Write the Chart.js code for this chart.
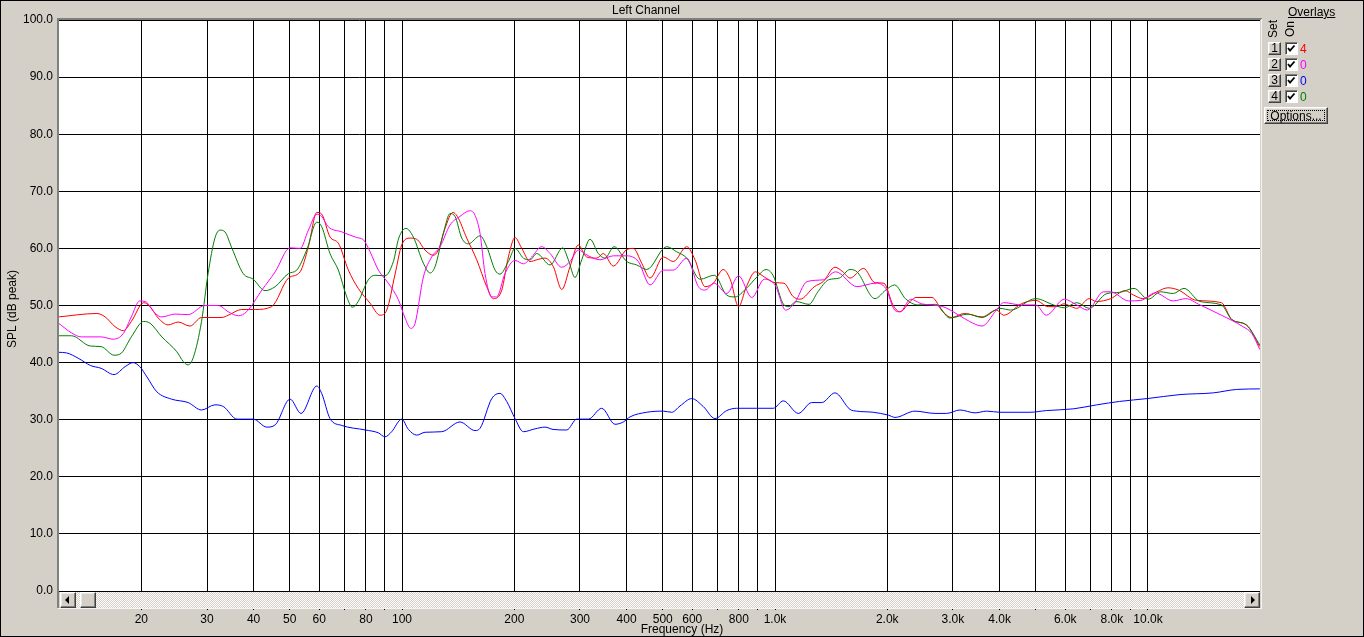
<!DOCTYPE html>
<html>
<head>
<meta charset="utf-8">
<script src="https://cdn.jsdelivr.net/npm/chart.js@4.4.1/dist/chart.umd.min.js"></script>
<style>
html,body{margin:0;padding:0;background:#D4D0C8;overflow:hidden;}
#wrap{position:relative;width:1364px;height:637px;}
canvas{position:absolute;left:0;top:0;}
.ui{position:absolute;font-family:"Liberation Sans",Arial,sans-serif;font-size:12px;line-height:12px;color:#000;white-space:nowrap;}
.b3d{position:absolute;box-sizing:border-box;background:#D4D0C8;border:1px solid;border-color:#FFFFFF #404040 #404040 #FFFFFF;box-shadow:inset -1px -1px #808080, inset 1px 1px #E8E8E8;}
.cb{position:absolute;box-sizing:border-box;width:13px;height:13px;background:#fff;border:1px solid;border-color:#808080 #FFFFFF #FFFFFF #808080;box-shadow:inset 1px 1px #404040;}
.rot{transform:rotate(-90deg);text-align:center;}
</style>
</head>
<body>
<div id="wrap">
<canvas id="c" width="1364" height="637" style="width:1364px;height:637px;"></canvas>

<!-- scrollbar -->
<div style="position:absolute;left:60px;top:592px;width:1200px;height:16px;background:repeating-conic-gradient(#D4D0C8 0 25%, #FFFFFF 0 50%) 0 0/2px 2px;"></div>
<div class="b3d" style="left:60px;top:592px;width:16px;height:16px;">
  <div style="position:absolute;left:4px;top:3px;width:0;height:0;border-top:4px solid transparent;border-bottom:4px solid transparent;border-right:4px solid #000;"></div>
</div>
<div class="b3d" style="left:80px;top:592px;width:16px;height:16px;"></div>
<div class="b3d" style="left:1244px;top:592px;width:16px;height:16px;">
  <div style="position:absolute;left:6px;top:3px;width:0;height:0;border-top:4px solid transparent;border-bottom:4px solid transparent;border-left:4px solid #000;"></div>
</div>

<!-- overlays panel -->
<div class="ui" style="left:1288px;top:6px;text-decoration:underline;">Overlays</div>
<div class="ui rot" style="left:1263px;top:23px;width:20px;height:12px;">Set</div>
<div class="ui rot" style="left:1281px;top:23px;width:18px;height:12px;">On</div>

<div class="b3d ui" style="left:1268px;top:42px;width:13px;height:13px;text-align:center;line-height:11px;">1</div>
<div class="b3d ui" style="left:1268px;top:58px;width:13px;height:13px;text-align:center;line-height:11px;">2</div>
<div class="b3d ui" style="left:1268px;top:74px;width:13px;height:13px;text-align:center;line-height:11px;">3</div>
<div class="b3d ui" style="left:1268px;top:90px;width:13px;height:13px;text-align:center;line-height:11px;">4</div>

<div class="cb" style="left:1285px;top:42px;"><svg width="11" height="11" style="position:absolute;left:0;top:0"><polyline points="2,5 4,7.5 8.5,2.5" fill="none" stroke="#000" stroke-width="1.8"/></svg></div>
<div class="cb" style="left:1285px;top:58px;"><svg width="11" height="11" style="position:absolute;left:0;top:0"><polyline points="2,5 4,7.5 8.5,2.5" fill="none" stroke="#000" stroke-width="1.8"/></svg></div>
<div class="cb" style="left:1285px;top:74px;"><svg width="11" height="11" style="position:absolute;left:0;top:0"><polyline points="2,5 4,7.5 8.5,2.5" fill="none" stroke="#000" stroke-width="1.8"/></svg></div>
<div class="cb" style="left:1285px;top:90px;"><svg width="11" height="11" style="position:absolute;left:0;top:0"><polyline points="2,5 4,7.5 8.5,2.5" fill="none" stroke="#000" stroke-width="1.8"/></svg></div>

<div class="ui" style="left:1300px;top:43px;color:#FF0000;">4</div>
<div class="ui" style="left:1300px;top:59px;color:#FF00FF;">0</div>
<div class="ui" style="left:1300px;top:75px;color:#0000FF;">0</div>
<div class="ui" style="left:1300px;top:91px;color:#008000;">0</div>

<div class="b3d ui" style="left:1264px;top:107px;width:64px;height:17px;">
  <div style="position:absolute;left:2px;top:2px;right:2px;bottom:2px;border:1px dotted #000;text-align:center;line-height:11px;">Options...</div>
</div>
</div>

<script>
// ---------------- data ----------------
const redHz = [12.0, 15.2, 16.0, 17.0, 17.9, 18.8, 20.3, 21.1, 22.2, 23.6, 25.1, 27.0, 29.0, 32.9, 34.2, 37.2, 40.4, 44.7, 49.6, 53.3, 56.1, 59.1, 60.9, 64.1, 67.5, 71.8, 76.3, 82.1, 87.3, 91.0, 95.8, 99.8, 105.1, 109.5, 115.3, 121.3, 125.1, 130.4, 136.8, 140.7, 149.1, 158.6, 168.7, 175.7, 185.1, 192.8, 200.9, 209.4, 220.4, 229.7, 241.8, 254.5, 268.1, 282.1, 296.9, 312.7, 332.7, 346.5, 368.6, 400.5, 417.1, 439.2, 462.3, 501.8, 533.7, 579.9, 610.3, 649.2, 683.4, 726.3, 759.3, 798.7, 838, 886, 936, 1000, 1057, 1117, 1167, 1275, 1347, 1448, 1521, 1589, 1728, 1854, 1959, 2071, 2163, 2311, 2388, 2636, 2818, 2979, 3217, 3589, 3923, 4102, 4577, 5000, 5400, 5702, 5955, 6232, 6443, 6958, 7271, 7943, 8677, 9167, 9690, 10571, 11308, 12078, 13486, 15735, 16800, 18360, 19950];
const redDb = [48.0, 48.6, 48.0, 46.3, 45.6, 47.2, 50.5, 49.8, 47.8, 46.6, 47.1, 46.4, 47.9, 47.9, 48.3, 49.3, 49.3, 49.8, 54.8, 55.9, 60.3, 66.3, 66.0, 62.0, 60.9, 56.2, 53.0, 50.4, 48.3, 49.2, 55.5, 60.6, 61.8, 61.6, 59.7, 58.8, 59.7, 63.5, 66.3, 65.6, 61.8, 58.0, 53.3, 51.2, 52.7, 58.5, 61.9, 60.0, 57.7, 58.0, 58.3, 56.8, 52.8, 56.8, 60.6, 58.5, 58.3, 59.1, 56.9, 59.8, 60.0, 57.4, 54.8, 58.5, 57.7, 60.3, 58.0, 53.3, 53.9, 56.3, 54.5, 49.8, 53.3, 55.9, 55.0, 54.0, 53.9, 51.6, 51.1, 53.3, 54.2, 56.7, 55.9, 54.8, 56.5, 54.0, 53.9, 50.1, 48.9, 50.8, 51.4, 51.4, 48.9, 47.9, 48.6, 48.0, 49.2, 48.3, 50.3, 50.9, 49.8, 49.8, 50.3, 49.8, 49.5, 51.2, 50.7, 51.2, 52.6, 51.8, 51.2, 52.4, 53.1, 52.7, 50.9, 50.5, 47.5, 46.6, 42.8];

const magentaHz = [12.0, 13.0, 13.8, 15.6, 16.8, 17.9, 18.8, 19.8, 20.5, 21.8, 22.7, 24.6, 26.7, 29.6, 32.2, 34.2, 36.4, 38.3, 42.1, 45.7, 50.1, 53.3, 56.1, 59.1, 60.9, 63.4, 68.9, 75.6, 78.8, 82.1, 86.4, 91.9, 97.8, 101.9, 105.5, 108.4, 114.1, 120.1, 126.5, 134.5, 143.0, 152.2, 156.9, 161.9, 166.9, 174.0, 179.4, 188.8, 200.9, 211.5, 222.7, 236.9, 249.4, 268.1, 282.1, 296.9, 315.9, 339.5, 368.6, 400.5, 430.1, 462.3, 501.8, 533.7, 579.9, 623.1, 649.2, 687.6, 742.6, 798.7, 866.5, 936.0, 1000, 1068, 1128, 1219, 1347, 1454, 1659, 1854, 1981, 2093, 2163, 2311, 2469, 2818, 3113, 3325, 3589, 3923, 4102, 4577, 5000, 5340, 5964, 6443, 6882, 7603, 7943, 8872, 9577, 10466, 11684, 12622, 13786, 15735, 17967, 18985, 19950];
const magentaDb = [46.9, 45.2, 44.5, 44.5, 44.1, 45.1, 48.0, 50.8, 50.7, 48.6, 48.0, 48.5, 48.4, 50.0, 50.0, 48.9, 48.2, 48.9, 52.7, 55.9, 60.1, 60.0, 63.2, 66.0, 65.6, 63.8, 62.9, 61.9, 61.5, 59.4, 56.2, 53.9, 51.0, 47.8, 46.0, 46.9, 55.0, 58.5, 60.3, 64.1, 65.6, 66.6, 65.8, 62.6, 55.6, 51.5, 51.5, 55.6, 57.9, 57.3, 58.5, 60.3, 59.1, 56.7, 57.7, 59.7, 58.7, 58.0, 58.7, 58.7, 57.7, 53.6, 56.2, 56.2, 58.3, 53.3, 52.7, 53.9, 52.1, 55.2, 51.4, 54.6, 53.6, 49.2, 50.4, 54.2, 54.5, 55.9, 53.3, 53.9, 53.0, 49.2, 48.9, 51.1, 50.3, 49.8, 48.3, 47.2, 46.4, 49.2, 50.5, 50.1, 50.1, 48.3, 51.1, 50.1, 49.2, 52.4, 52.4, 50.8, 50.9, 52.2, 50.8, 51.2, 50.1, 48.3, 46.3, 45.1, 42.3];

const blueHz = [12.0, 12.6, 13.6, 14.6, 15.6, 16.9, 18.1, 19.0, 19.8, 20.7, 22.0, 24.1, 26.7, 29.0, 31.5, 33.2, 36.1, 39.9, 43.4, 45.7, 50.1, 53.6, 59.1, 60.9, 64.1, 68.9, 79.8, 86.4, 90.0, 93.8, 99.8, 104.0, 109.5, 115.3, 127.8, 143.0, 156.9, 161.9, 174.0, 183.1, 190.8, 200.9, 211.5, 227.3, 241.8, 254.0, 276.5, 294.1, 315.9, 343.1, 372.4, 392.0, 408.7, 452.9, 501.8, 528.5, 556.3, 598.0, 642.3, 690.4, 742.2, 789.3, 893.0, 989.5, 1053, 1155, 1254, 1334, 1448, 1589, 1656, 1835, 2013, 2098, 2373, 2685, 2885, 3133, 3438, 3695, 4011, 4827, 5340, 6305, 7290, 8393, 9960, 12183, 14964, 17292, 19950];
const blueDb = [41.8, 41.7, 40.7, 39.5, 39.0, 37.9, 39.3, 40.0, 39.3, 37.5, 34.9, 33.6, 33.0, 31.7, 32.6, 32.3, 30.1, 30.1, 28.7, 29.1, 33.6, 31.1, 35.9, 34.6, 30.2, 29.0, 28.2, 27.7, 27.0, 27.9, 30.1, 28.3, 27.3, 27.8, 27.9, 29.6, 28.1, 28.5, 33.7, 34.6, 33.2, 30.2, 27.9, 28.4, 28.7, 28.3, 28.2, 30.1, 30.1, 32.0, 29.2, 29.6, 30.5, 31.3, 31.5, 31.3, 32.4, 33.7, 32.3, 30.2, 31.6, 32.0, 32.0, 32.0, 33.3, 31.1, 33.0, 33.0, 34.7, 31.8, 31.5, 31.3, 30.8, 30.4, 31.5, 31.1, 31.1, 31.7, 31.2, 31.5, 31.3, 31.3, 31.6, 31.9, 32.6, 33.2, 33.7, 34.4, 34.7, 35.3, 35.4];

const greenHz = [12.0, 13.0, 14.6, 15.6, 16.9, 17.7, 18.8, 20.3, 21.1, 22.7, 24.9, 25.9, 26.7, 27.6, 29.0, 30.2, 31.5, 32.5, 33.5, 35.0, 37.5, 39.9, 42.9, 45.7, 49.6, 52.2, 55.5, 59.1, 60.9, 64.1, 67.5, 71.1, 73.6, 76.3, 81.2, 84.6, 90.0, 94.8, 98.0, 102.5, 107.2, 114.1, 118.9, 122.6, 129.0, 134.5, 138.7, 144.6, 150.6, 161.9, 168.7, 177.6, 183.1, 192.8, 200.9, 211.5, 220.4, 229.7, 249.4, 269.7, 279.2, 290.9, 303.2, 319.2, 336.0, 350.1, 370.2, 400.5, 425.9, 452.9, 512.5, 545.1, 579.9, 629.6, 687.6, 742.6, 781.3, 838.0, 894.6, 946.0, 987.6, 1057, 1090, 1138, 1234, 1303, 1392, 1487, 1589, 1659, 1854, 1981, 2093, 2237, 2416, 2697, 2946, 3290, 3589, 4011, 4285, 5000, 5584, 5964, 6443, 6958, 7764, 8394, 9174, 10012, 10815, 11684, 12490, 13786, 15735, 16800, 18360, 19950];
const greenDb = [44.7, 44.7, 42.9, 42.8, 41.3, 41.7, 44.5, 47.2, 46.9, 44.5, 41.9, 40.2, 39.6, 41.0, 47.2, 55.6, 61.8, 63.2, 62.9, 60.0, 55.6, 54.6, 52.6, 53.3, 55.6, 56.2, 59.7, 64.6, 63.8, 59.1, 56.2, 51.5, 49.7, 50.7, 54.5, 55.3, 55.2, 57.7, 61.8, 63.5, 62.0, 57.4, 55.7, 56.8, 62.6, 66.1, 65.6, 61.8, 60.8, 62.2, 60.3, 56.2, 55.5, 57.7, 60.0, 58.3, 58.0, 59.1, 57.1, 60.1, 58.0, 54.9, 58.0, 61.6, 59.1, 58.3, 60.3, 57.7, 57.1, 56.3, 60.3, 59.4, 58.3, 54.6, 55.3, 51.8, 51.5, 53.0, 55.0, 56.3, 55.3, 50.1, 49.8, 50.7, 50.2, 52.4, 54.5, 54.8, 56.3, 55.9, 51.2, 52.7, 53.6, 51.2, 50.1, 50.2, 47.8, 48.5, 47.9, 49.5, 49.2, 51.2, 50.1, 49.6, 50.5, 49.5, 52.1, 52.3, 53.0, 51.1, 52.4, 52.1, 53.0, 50.7, 50.1, 47.5, 46.6, 43.1];

const tickHz = [20, 30, 40, 50, 60, 70, 80, 90, 100, 200, 300, 400, 500, 600, 700, 800, 900, 1000, 2000, 3000, 4000, 5000, 6000, 7000, 8000, 9000, 10000];
const tickLabels = ['20', '30', '40', '50', '60', '', '80', '', '100', '200', '300', '400', '500', '600', '', '800', '', '1.0k', '2.0k', '3.0k', '4.0k', '', '6.0k', '', '8.0k', '', '10.0k'];
const yMin = 0, yMax = 100, yStep = 10;
const xMin = 12.03, xMax = 19970;

// ---------------- build ----------------
function pts(hz, db, name) {
  if (hz.length !== db.length) throw new Error(name + ' length mismatch ' + hz.length + ' vs ' + db.length);
  return hz.map((f, i) => ({ x: f, y: db[i] }));
}
const FONT = '"Liberation Sans", Arial, sans-serif';

const framePlugin = {
  id: 'frame',
  beforeDraw(chart) {
    const { ctx, chartArea: a } = chart;
    ctx.save();
    ctx.fillStyle = '#D4D0C8';
    ctx.fillRect(0, 0, chart.width, chart.height);
    ctx.fillStyle = '#FFFFFF';
    ctx.fillRect(a.left, a.top, a.right - a.left, a.bottom - a.top);
    ctx.restore();
  },
  afterDraw(chart) {
    const { ctx, chartArea: a } = chart;
    ctx.save();
    // sunken frame around plot + scrollbar
    ctx.fillStyle = '#808080';
    ctx.fillRect(a.left - 2, a.top - 2, a.right - a.left + 4, 2);
    ctx.fillRect(a.left - 2, a.top - 2, 2, 608 - (a.top - 2));
    ctx.fillStyle = '#F4F4F4';
    ctx.fillRect(a.right + 1, a.top - 1, 1, 609 - a.top);
    ctx.fillRect(a.left - 1, 608, a.right - a.left + 3, 1);
    // texts
    ctx.fillStyle = '#000';
    ctx.font = '12px ' + FONT;
    ctx.textAlign = 'center';
    ctx.textBaseline = 'alphabetic';
    ctx.fillText('Left Channel', 646, 14);
    ctx.fillText('Frequency (Hz)', 682, 633);
    ctx.save();
    ctx.translate(16, 309);
    ctx.rotate(-Math.PI / 2);
    ctx.fillText('SPL (dB peak)', 0, 0);
    ctx.restore();
    // window border
    ctx.strokeStyle = '#000';
    ctx.lineWidth = 1;
    ctx.strokeRect(0.5, 0.5, chart.width - 1, chart.height - 1);
    ctx.restore();
  }
};

const ds = (label, hz, db, color) => ({
  label, data: pts(hz, db, label), borderColor: color, backgroundColor: color,
  borderWidth: 1, pointRadius: 0, fill: false, cubicInterpolationMode: 'monotone'
});

new Chart(document.getElementById('c'), {
  type: 'line',
  data: {
    datasets: [
      ds('Set 3', blueHz, blueDb, '#0000FF'),
      ds('Set 2', magentaHz, magentaDb, '#FF00FF'),
      ds('Set 4', greenHz, greenDb, '#008000'),
      ds('Set 1', redHz, redDb, '#FF0000')
    ]
  },
  options: {
    responsive: false,
    animation: false,
    devicePixelRatio: 1,
    layout: { padding: { left: 0, right: 104, top: 20, bottom: 0 } },
    plugins: { legend: { display: false }, tooltip: { enabled: false }, title: { display: false } },
    scales: {
      x: {
        type: 'logarithmic', min: xMin, max: xMax,
        afterBuildTicks: (axis) => { axis.ticks = tickHz.map(v => ({ value: v })); },
        afterFit: (s) => { s.height = 46; },
        border: { display: false },
        grid: { color: '#000', lineWidth: 1, drawTicks: true, tickLength: 19, tickColor: '#000', tickWidth: 1 },
        ticks: {
          autoSkip: false, maxRotation: 0, minRotation: 0, padding: 2, color: '#000',
          font: { family: FONT, size: 12 },
          callback: (v, i) => tickLabels[i]
        }
      },
      y: {
        min: yMin, max: yMax,
        afterFit: (s) => { s.width = 59; },
        border: { display: false },
        grid: { color: '#000', lineWidth: 1, drawTicks: false },
        ticks: {
          stepSize: yStep, padding: 6, color: '#000',
          font: { family: FONT, size: 12 },
          callback: (v) => Number(v).toFixed(1)
        }
      }
    }
  },
  plugins: [framePlugin]
});
</script>
</body>
</html>
